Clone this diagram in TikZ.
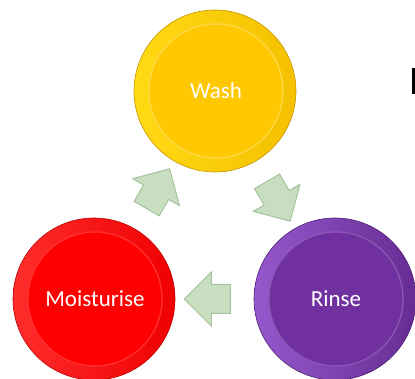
\documentclass[tikz,border=0pt]{standalone}
\usepackage{fontspec}
\setmainfont{Carlito}
\definecolor{washyellow}{RGB}{255,200,0}
\definecolor{washrim}{RGB}{255,218,20}
\definecolor{washdark}{RGB}{200,150,0}
\definecolor{rinsepurple}{RGB}{112,48,160}
\definecolor{rinserim}{RGB}{150,88,205}
\definecolor{rinsedark}{RGB}{80,30,120}
\definecolor{moistred}{RGB}{255,0,0}
\definecolor{moistrim}{RGB}{255,45,45}
\definecolor{moistdark}{RGB}{190,0,0}
\definecolor{arrgreen}{RGB}{199,222,193}
\definecolor{arredge}{RGB}{165,196,158}
\usetikzlibrary{shapes.arrows, calc}

\begin{document}
\begin{tikzpicture}[x=1pt, y=-1pt,
          disc/.style={
              circle,
              minimum size=162pt,
              inner sep=0pt,
              line width=0.6pt
            },
          face/.style={
              circle,
              minimum size=134pt,
              inner sep=0pt,
              line width=1.2pt,
              text=white,
              font=\fontsize{23}{26}\selectfont
            },
          flowarr/.style={
              single arrow,
              single arrow head extend=12.5pt,
              single arrow tip angle=90,
              inner sep=14pt,
              minimum height=46pt,
              fill=arrgreen,
              draw=arredge,
              line width=1pt
            }
        ]
        \useasboundingbox (0,0) rectangle (415,379);

        \node[disc, draw=washdark, left color=washrim, right color=washyellow!96!black] (washrim) at (215,91) {};
        \node[face, fill=washyellow, draw=washyellow!70!white] (wash) at (216,91) {Wash};

        \node[disc, draw=rinsedark, left color=rinserim, right color=rinsepurple!92!black] (rinserim) at (335,299) {};
        \node[face, fill=rinsepurple, draw=rinsepurple!80!white] (rinse) at (336,299) {Rinse};

        \node[disc, draw=moistdark, left color=moistrim, right color=moistred!94!black] (moistrim) at (94,299) {};
        \node[face, fill=moistred, draw=moistred!80!white] (moist) at (95,299) {Moisturise};

        \node[flowarr, rotate=-60] (a1) at ($(washrim)!0.5!(rinserim)$) {};
        \node[flowarr, rotate=180] (a2) at ($(rinserim)!0.5!(moistrim)$) {};
        \node[flowarr, rotate=60] (a3) at ($(moistrim)!0.5!(washrim)$) {};

        \fill[black] (412,68) rectangle (415,94);
      \end{tikzpicture}
\end{document}
